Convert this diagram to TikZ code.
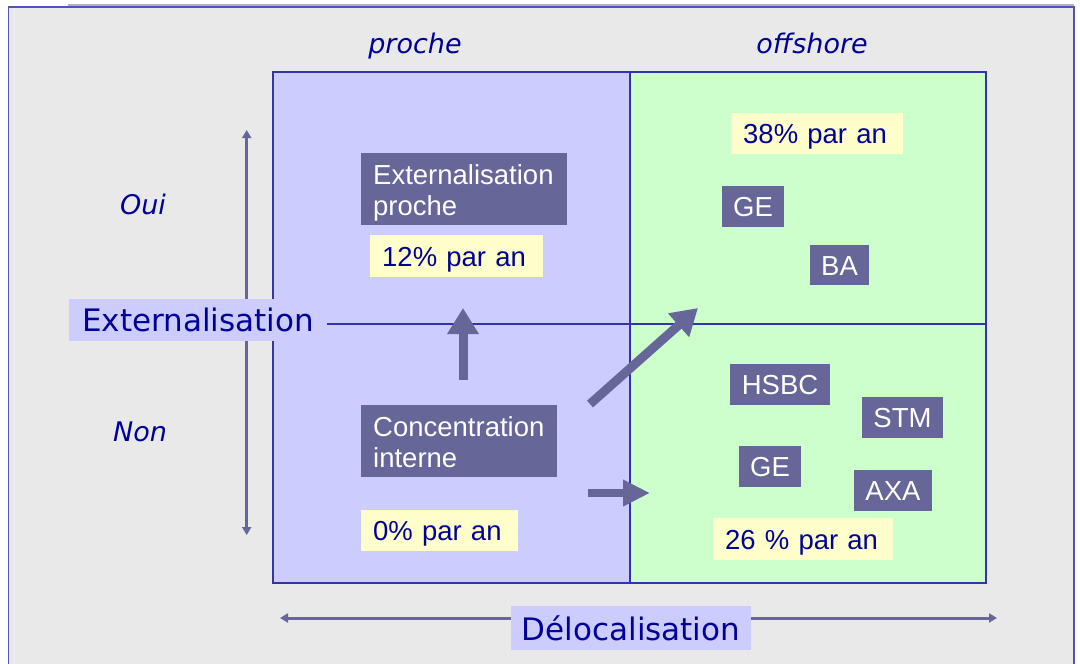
\documentclass[tikz,border=0pt]{standalone}
\usepackage{fontspec}
\setmainfont{Liberation Sans}
\newfontfamily\axisfont{DejaVu Sans}
\usepackage{xcolor}
\usepackage{tikz}
\usetikzlibrary{arrows}
\usetikzlibrary{arrows.meta}
\usetikzlibrary{calc}

\definecolor{bggray}{HTML}{E9E9E9}
\definecolor{lblue}{HTML}{CCCCFF}
\definecolor{lgreen}{HTML}{CCFFCC}
\definecolor{slate}{HTML}{666699}
\definecolor{lyellow}{HTML}{FFFFCC}
\definecolor{dblue}{HTML}{000099}
\definecolor{frameblue}{HTML}{3333AA}

\tikzset{
	axislabel/.style={fill=lblue, text=dblue, inner xsep=13pt, inner ysep=0pt, minimum height=42pt, font=\axisfont\fontsize{31}{36}\selectfont},
	head/.style={text=dblue, inner sep=0pt, anchor=base, font=\axisfont\itshape\fontsize{27}{32}\selectfont},
	firm/.style={fill=slate, text=white, inner sep=0pt, minimum height=41pt, text height=20pt, text depth=0pt, font=\fontsize{27.5}{31}\selectfont},
	bigfirm/.style={fill=slate, text=white, anchor=north west, inner xsep=12pt, inner ysep=0pt, minimum height=72pt, text height=20pt, text depth=28.5pt, align=left, font=\fontsize{27.5}{31}\selectfont},
	rate/.style={fill=lyellow, text=dblue, anchor=north west, inner xsep=12pt, inner ysep=0pt, text height=20pt, text depth=0pt, align=left, font=\fontsize{27.5}{31}\selectfont},
	thin arrow/.style={slate, line width=3pt, {Triangle[length=8pt,width=9pt]}-{Triangle[length=8pt,width=9pt]}},
	fat arrow/.style={slate, line width=9pt, -{Triangle[length=26pt,width=30pt]}}
}

\begin{document}
\begin{tikzpicture}[x=1pt,y=-1pt,>=stealth]
\useasboundingbox (0,0) rectangle (1080,664);
\fill[white] (0,0) rectangle (1080,664);
\fill[bggray] (8.5,7) rectangle (1074,664);
\draw[gray!60, line width=2pt] (68,4.5) -- (1074,4.5);
\draw[frameblue!85, line width=1.6pt] (8.5,664) -- (8.5,7) -- (1074,7) -- (1074,664);

\draw[frameblue, line width=1.2pt, fill=lblue] (273,72) rectangle (630,583);
\draw[frameblue, line width=1.2pt, fill=lgreen] (630,72) rectangle (986,583);

\coordinate (top) at (246.7,130);
\coordinate (bot) at (246.7,535);
\coordinate (left) at (280,618);
\coordinate (right) at (997,618);
\coordinate (gridE) at (986,324);

\draw[thin arrow] (top) -- (bot);
\draw[thin arrow] (left) -- (right);

\node[axislabel] (ext) at (198,320) {Externalisation};
\node[axislabel, inner xsep=11pt, minimum height=44pt] (delo) at (631,628) {Délocalisation};
\draw[frameblue, line width=1.2pt] (ext.east |- gridE) -- (gridE);

\node[head] (v1) at (415,53) {proche};
\node[head] (v2) at (812,53) {offshore};
\node[head] (v3) at (143,214) {Oui};
\node[head] (v4) at (140,441) {Non};

\node[bigfirm, text width=182pt] (b1) at (361,153) {Externalisation\\proche};
\node[bigfirm, text width=172pt] (b2) at (361,405) {Concentration\\interne};
\node[firm, minimum width=62pt] (b3) at (753,206.5) {GE};
\node[firm, minimum width=59pt, minimum height=40pt] (b4) at (839.5,265) {BA};
\node[firm, minimum width=100pt] (b5) at (780,384.5) {HSBC};
\node[firm, minimum width=81pt] (b6) at (902.5,417.5) {STM};
\node[firm, minimum width=62pt] (b7) at (770,466.5) {GE};
\node[firm, minimum width=78pt] (b8) at (893,490.5) {AXA};

\node[rate, text width=149pt, minimum height=42pt] (r1) at (370,235) {12\% par an};
\node[rate, text width=148pt, minimum height=41pt] (r2) at (731,113) {38\% par an};
\node[rate, text width=133pt, minimum height=41pt] (r3) at (361,510) {0\% par an};
\node[rate, text width=156pt, minimum height=42pt] (r4) at (713,518) {26 \% par an};

\coordinate (up0) at (463,380);
\coordinate (up1) at (463,308);
\coordinate (dg0) at (590,404);
\coordinate (dg1) at (698,308);
\coordinate (rt0) at (588,493);
\coordinate (rt1) at (650,493);

\draw[fat arrow] (up0) -- (up1);
\draw[fat arrow] (dg0) -- (dg1);
\draw[fat arrow, line width=8pt, -{Triangle[length=27pt,width=25pt]}] (rt0) -- (rt1);

\end{tikzpicture}
\end{document}
